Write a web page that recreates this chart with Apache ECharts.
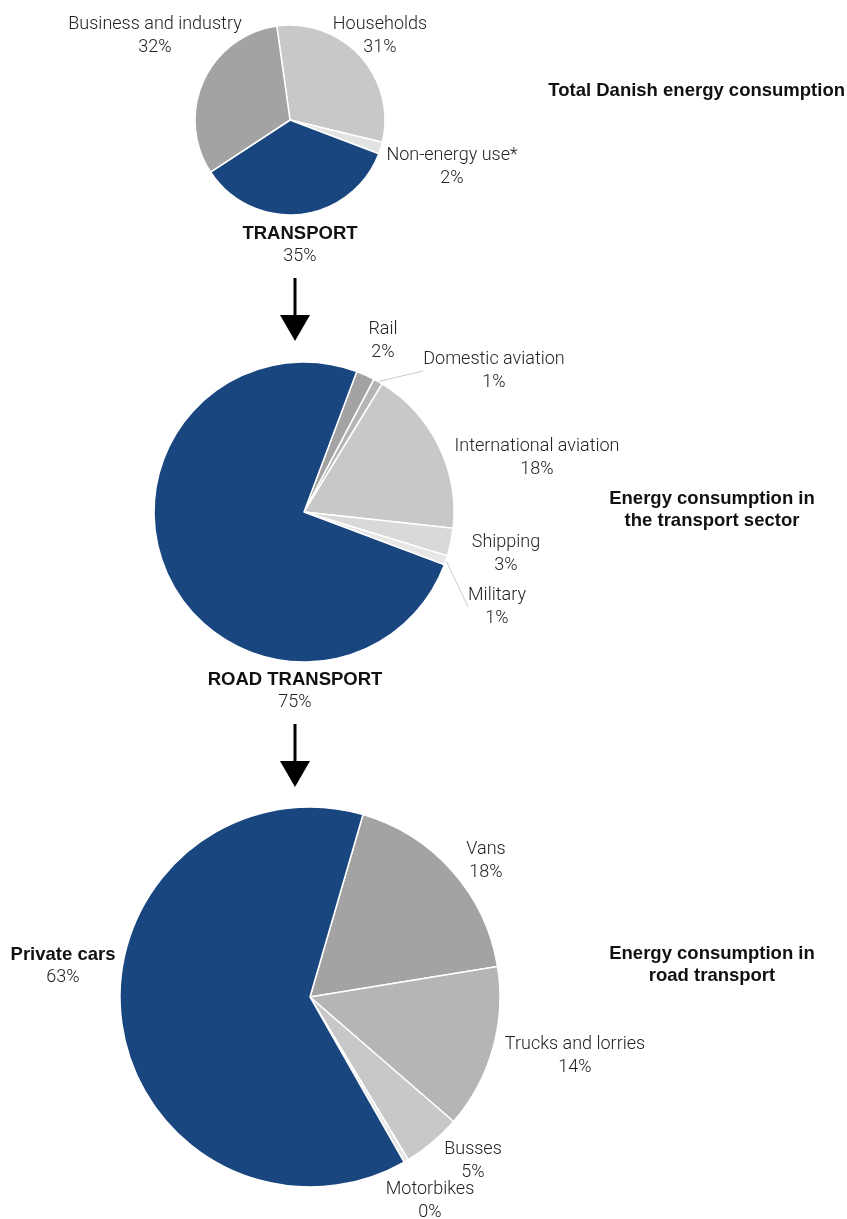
<!DOCTYPE html>
<html>
<head>
<meta charset="utf-8">
<script src="https://cdn.jsdelivr.net/npm/echarts@6/dist/echarts.min.js"></script>
<style>
  html, body { margin: 0; padding: 0; background: #fff; }
  #chart { width: 847px; height: 1219px; }
</style>
</head>
<body>
<div id="chart"></div>
<script>
// Total Danish energy consumption (%)
const totalNames = ['Households', 'Non-energy use*', 'TRANSPORT', 'Business and industry'];
const totalValues = [31, 2, 35, 32];

// Energy consumption in the transport sector (%)
const transportNames = ['Rail', 'Domestic aviation', 'International aviation', 'Shipping', 'Military', 'ROAD TRANSPORT'];
const transportValues = [2, 1, 18, 3, 1, 75];

// Energy consumption in road transport (%)
const roadNames = ['Vans', 'Trucks and lorries', 'Busses', 'Motorbikes', 'Private cars'];
const roadValues = [18, 14, 5, 0.4, 63];

const panelTitles = [
  'Total Danish energy consumption',
  'Energy consumption in\nthe transport sector',
  'Energy consumption in\nroad transport'
];

const BLUE = '#1a4680';
const FONT = 'Roboto, "Liberation Sans", sans-serif';
const BOLD_FONT = '"Liberation Sans", Arial, sans-serif';
const FS = 18;
const FS_BOLD = 18.5;

function pieSeries(cfg) {
  return {
    type: 'pie',
    center: cfg.center,
    radius: cfg.radius,
    startAngle: cfg.startAngle,
    clockwise: true,
    silent: true,
    animation: false,
    avoidLabelOverlap: false,
    itemStyle: { borderColor: '#fff', borderWidth: 1.5 },
    data: cfg.names.map((n, i) => ({
      name: n,
      value: cfg.values[i],
      itemStyle: { color: cfg.colors[i] },
      labelLine: {
        show: !!(cfg.lines && cfg.lines[i]),
        length: 0, length2: 0,
        lineStyle: { color: '#bdbdbd', width: 0.8 }
      }
    })),
    label: {
      show: true,
      position: 'outside',
      formatter: p => {
        const pct = Math.round(p.value) + '%';
        return (cfg.bold && cfg.bold[p.dataIndex])
          ? '{b|' + p.name + '}\n{n|' + pct + '}'
          : '{n|' + p.name + '}\n{n|' + pct + '}';
      },
      rich: {
        b: { fontFamily: BOLD_FONT, fontWeight: 'bold', fontSize: FS_BOLD, color: '#111', lineHeight: 23, align: 'center' },
        n: { fontFamily: FONT, fontWeight: 300, fontSize: FS, color: '#222', lineHeight: 23, align: 'center' }
      }
    },
    labelLayout: p => {
      const pos = cfg.labelPos[p.dataIndex];
      return { x: pos[0], y: pos[1], align: 'center', verticalAlign: 'middle' };
    }
  };
}

const chart = echarts.init(document.getElementById('chart'), null, { renderer: 'canvas' });

const arrow = (x, y0, y1) => ([
  { type: 'rect', shape: { x: x - 1.5, y: y0, width: 3, height: y1 - y0 - 24 }, style: { fill: '#000' }, silent: true },
  { type: 'polygon', shape: { points: [[x - 15, y1 - 26], [x + 15, y1 - 26], [x, y1]] }, style: { fill: '#000' }, silent: true }
]);

chart.setOption({
  backgroundColor: '#fff',
  series: [
    pieSeries({
      center: [290, 120], radius: 95, startAngle: 98,
      names: totalNames, values: totalValues,
      colors: ['#c8c8c8', '#e3e3e3', BLUE, '#a3a3a3'],
      bold: [false, false, true, false],
      labelPos: [[380, 36], [452, 167], [300, 245], [155, 36]]
    }),
    pieSeries({
      center: [304, 512], radius: 150, startAngle: 69.4,
      names: transportNames, values: transportValues,
      colors: ['#a3a3a3', '#b5b5b5', '#c8c8c8', '#d9d9d9', '#e6e6e6', BLUE],
      bold: [false, false, false, false, false, true],
      lines: [false, true, false, false, true, false],
      labelPos: [[383, 341], [494, 371], [537, 458], [506, 554], [497, 607], [295, 691]]
    }),
    pieSeries({
      center: [310, 997], radius: 190, startAngle: 73.8,
      names: roadNames, values: roadValues,
      colors: ['#a3a3a3', '#b5b5b5', '#c8c8c8', '#e6e6e6', BLUE],
      bold: [false, false, false, false, true],
      labelPos: [[486, 861], [575, 1056], [473, 1161], [430, 1201], [63, 966]]
    })
  ],
  graphic: [
    ...arrow(295, 278, 341),
    ...arrow(295, 724, 787),
    { type: 'text', silent: true, style: { text: panelTitles[0], x: 845, y: 91, align: 'right', verticalAlign: 'middle', font: 'bold ' + FS_BOLD + 'px ' + BOLD_FONT, fill: '#111', lineHeight: 22 } },
    { type: 'text', silent: true, style: { text: panelTitles[1], x: 712, y: 510, align: 'center', verticalAlign: 'middle', font: 'bold ' + FS_BOLD + 'px ' + BOLD_FONT, fill: '#111', lineHeight: 22 } },
    { type: 'text', silent: true, style: { text: panelTitles[2], x: 712, y: 965, align: 'center', verticalAlign: 'middle', font: 'bold ' + FS_BOLD + 'px ' + BOLD_FONT, fill: '#111', lineHeight: 22 } }
  ]
});
</script>
</body>
</html>
